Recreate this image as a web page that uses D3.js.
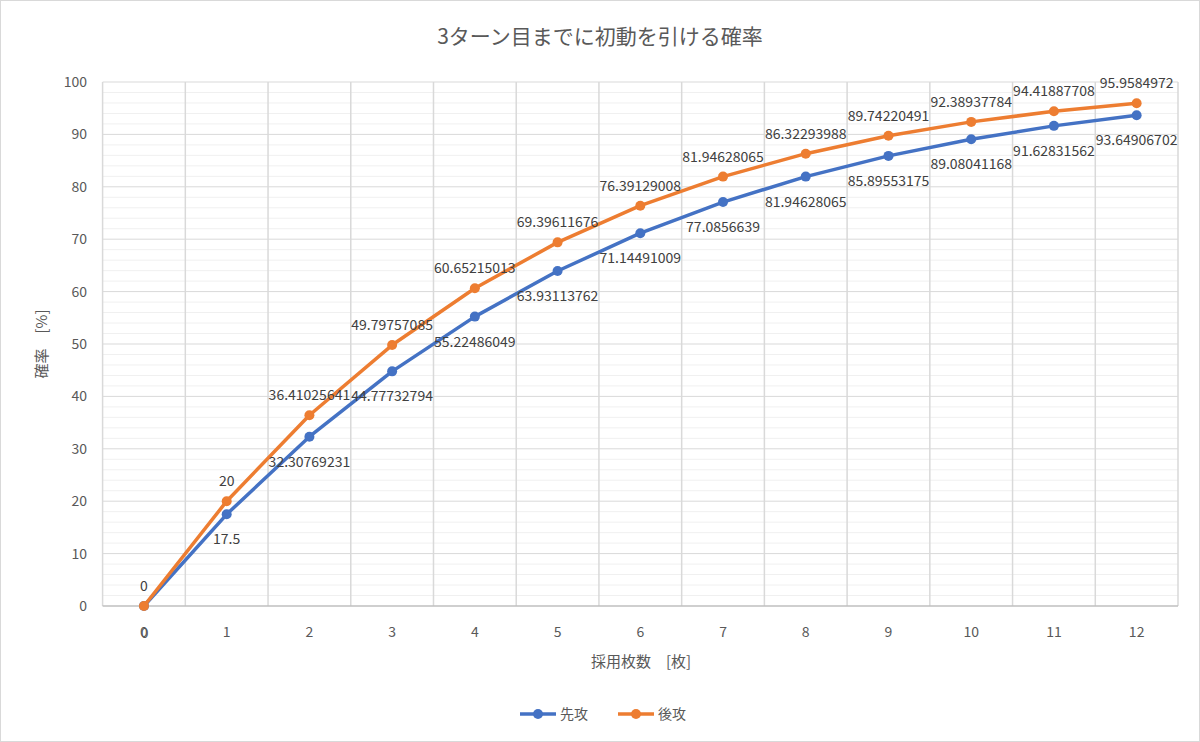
<!DOCTYPE html>
<html><head><meta charset="utf-8">
<script src="https://cdn.jsdelivr.net/npm/d3@7"></script>
<style>body{margin:0;background:#fff}text{font-family:"Noto Sans CJK JP","Noto Sans",sans-serif;fill:#595959}</style>
</head><body><svg id="c" width="1200" height="742"></svg>
<script>
const xTicks = [0,1,2,3,4,5,6,7,8,9,10,11,12];
const sente = [0,17.5,32.30769231,44.77732794,55.22486049,63.93113762,71.14491009,77.0856639,81.94628065,85.89553175,89.08041168,91.62831562,93.64906702];
const gote = [0,20,36.41025641,49.79757085,60.65215013,69.39611676,76.39129008,81.94628065,86.32293988,89.74220491,92.38937784,94.41887708,95.9584972];
const seriesNames = ["先攻","後攻"];
const colors = ["#4472c4","#ed7d31"];

const svg = d3.select("#c");
svg.append("rect").attr("x",0.5).attr("y",0.5).attr("width",1199).attr("height",741)
  .attr("fill","#fff").attr("stroke","#d9d9d9");

const x = d3.scaleLinear().domain([-0.5,12.5]).range([102.6,1178]);
const y = d3.scaleLinear().domain([0,100]).range([606,82]);

const g = svg.append("g");
// minor horizontal gridlines
g.selectAll(".mn").data(d3.range(0,101,2).filter(v=>v%10)).enter().append("line")
  .attr("x1",x(-0.5)).attr("x2",x(12.5)).attr("y1",d=>y(d)).attr("y2",d=>y(d))
  .attr("stroke","#f0f0f0").attr("stroke-width",1);
// major horizontal gridlines
g.selectAll(".mj").data(d3.range(10,101,10)).enter().append("line")
  .attr("x1",x(-0.5)).attr("x2",x(12.5)).attr("y1",d=>y(d)).attr("y2",d=>y(d))
  .attr("stroke","#d9d9d9").attr("stroke-width",1);
// vertical gridlines between categories
g.selectAll(".vg").data(d3.range(-0.5,12.6,1)).enter().append("line")
  .attr("x1",d=>x(d)).attr("x2",d=>x(d)).attr("y1",y(0)).attr("y2",y(100))
  .attr("stroke","#d9d9d9").attr("stroke-width",1.5);
// x axis line
g.append("line").attr("x1",x(-0.5)).attr("x2",x(12.5)).attr("y1",y(0)).attr("y2",y(0))
  .attr("stroke","#bfbfbf").attr("stroke-width",1.5);

// y tick labels
g.selectAll(".yt").data(d3.range(0,101,10)).enter().append("text")
  .attr("x",87).attr("y",d=>y(d)+5).attr("text-anchor","end").attr("font-size",14).text(d=>d);
// x tick labels (two category sets overlap at 0)
g.selectAll(".xt").data(xTicks).enter().append("text")
  .attr("x",d=>x(d)).attr("y",637).attr("text-anchor","middle").attr("font-size",14).text(d=>d);
g.append("text").attr("x",x(0)+0.8).attr("y",638).attr("text-anchor","middle").attr("font-size",14).text(xTicks[0]);

// titles
svg.append("text").attr("x",600).attr("y",44).attr("text-anchor","middle").attr("font-size",21).text("3ターン目までに初動を引ける確率");
svg.append("text").attr("x",641).attr("y",667).attr("text-anchor","middle").attr("font-size",15).text("採用枚数　[枚]");
svg.append("text").attr("transform","translate(47,344) rotate(-90)").attr("text-anchor","middle").attr("font-size",15).text("確率　[%]");

const line = d3.line().x((d,i)=>x(xTicks[i])).y(d=>y(d));
[sente,gote].forEach((s,k)=>{
  svg.append("path").datum(s).attr("d",line).attr("fill","none")
    .attr("stroke",colors[k]).attr("stroke-width",3.5).attr("stroke-linejoin","round");
  svg.selectAll(".p"+k).data(s).enter().append("circle")
    .attr("cx",(d,i)=>x(xTicks[i])).attr("cy",d=>y(d)).attr("r",5).attr("fill",colors[k]);
});
// data labels
svg.selectAll(".ls").data(sente).enter().filter((d,i)=>i>0).append("text")
  .attr("x",(d,i)=>x(xTicks[i+1])).attr("y",d=>y(d)+30).attr("text-anchor","middle")
  .attr("font-size",14).attr("fill","#404040").style("fill","#404040").text(d=>d);
svg.selectAll(".lg").data(gote).enter().append("text")
  .attr("x",(d,i)=>x(xTicks[i])).attr("y",d=>y(d)-15).attr("text-anchor","middle")
  .attr("font-size",14).style("fill","#404040").text(d=>d);

// legend
const lg = svg.append("g").attr("transform","translate(520,714)");
seriesNames.forEach((n,k)=>{
  const o = k*98;
  lg.append("line").attr("x1",o).attr("x2",o+36).attr("y1",0).attr("y2",0).attr("stroke",colors[k]).attr("stroke-width",3.5);
  lg.append("circle").attr("cx",o+18).attr("cy",0).attr("r",5).attr("fill",colors[k]);
  lg.append("text").attr("x",o+40).attr("y",5).attr("font-size",14).text(n);
});
</script></body></html>
